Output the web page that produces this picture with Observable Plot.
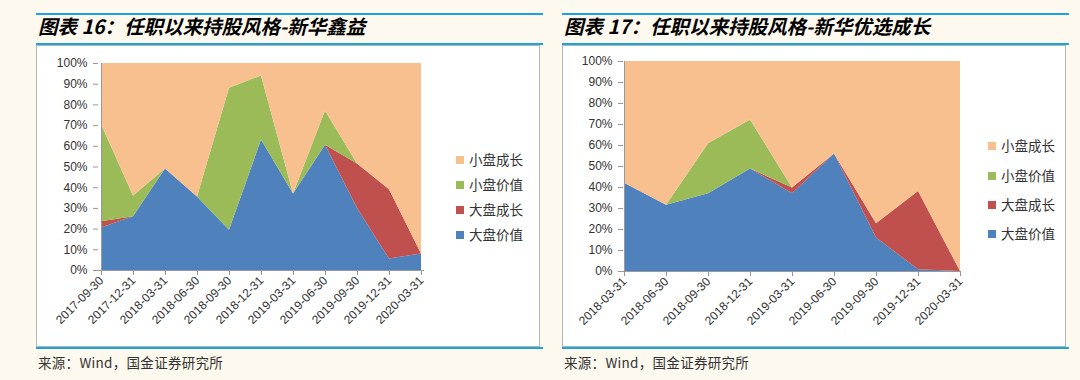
<!DOCTYPE html>
<html><head><meta charset="utf-8">
<script src="https://cdn.jsdelivr.net/npm/d3@7"></script>
<script src="https://cdn.jsdelivr.net/npm/@observablehq/plot@0.6"></script>
<style>
html,body{margin:0;padding:0;}
body{width:1080px;height:380px;background:#FEF9EE;position:relative;overflow:hidden;font-family:"Liberation Sans",Arial,"Noto Sans CJK SC",sans-serif;}
.bline{position:absolute;height:2px;background:#1BA4E0;}
.title{position:absolute;font-family:"Noto Sans CJK SC",sans-serif;font-weight:bold;font-style:italic;font-size:19.5px;line-height:24px;color:#000;white-space:nowrap;}
.box{position:absolute;background:#fff;border:1px solid #b5b5b5;box-sizing:border-box;}
.src{position:absolute;font-family:"Noto Sans CJK SC",sans-serif;font-size:13.5px;letter-spacing:0.3px;color:#333;line-height:16px;white-space:nowrap;}
.leg{position:absolute;font-family:"Noto Sans CJK SC",sans-serif;font-size:13.5px;color:#333;line-height:16px;white-space:nowrap;}
.leg span.sw{display:inline-block;width:8px;height:8px;margin-right:5px;vertical-align:1px;}
svg [aria-label="x-axis tick"], svg [aria-label="y-axis tick"]{stroke:#999;}
</style></head>
<body>
<script>
// ---- data ----
const seriesNames = ["大盘价值","大盘成长","小盘价值","小盘成长"];
const seriesColors = ["#4F81BD","#C0504D","#9BBB59","#F9C08F"];
const yTicks = [0,10,20,30,40,50,60,70,80,90,100];

const title16 = "图表 16：任职以来持股风格-新华鑫益";
const cats16 = ["2017-09-30","2017-12-31","2018-03-31","2018-06-30","2018-09-30","2018-12-31","2019-03-31","2019-06-30","2019-09-30","2019-12-31","2020-03-31"];
const bigValue16    = [20.5, 26, 49, 35.5, 19.5, 63, 37, 60.5, 30,   5.5,  8];
const bigGrowth16   = [3,    0,  0,  0,    0,    0,  0,  0,    21.5, 33.5, 0];
const smallValue16  = [47,   10, 0,  0,    68.5, 31, 0,  16.5, 0,    0,    0];
const smallGrowth16 = [29.5, 64, 51, 64.5, 12,   6,  63, 23,   48.5, 61,   92];

const title17 = "图表 17：任职以来持股风格-新华优选成长";
const cats17 = ["2018-03-31","2018-06-30","2018-09-30","2018-12-31","2019-03-31","2019-06-30","2019-09-30","2019-12-31","2020-03-31"];
const bigValue17    = [42, 31.5, 37,   48.8, 37,   56, 16,   0.8,  0];
const bigGrowth17   = [0,  0,    0,    0,    2.8,  0,  6.7,  37.3, 0];
const smallValue17  = [0,  0,    23.8, 23.3, 0,    0,  0,    0,    0];
const smallGrowth17 = [58, 68.5, 39.2, 27.9, 60.2, 44, 77.3, 61.9, 100];

const sourceText = "来源：Wind，国金证券研究所";

function buildTable(cats, arrays){
  const rows = [];
  cats.forEach((c,i)=>{
    seriesNames.forEach((s,k)=>rows.push({date:c, series:s, value:arrays[k][i]}));
  });
  return rows;
}

function panel(opts){
  const {left, width, title, cats, arrays, m, legendX, legendYs} = opts;
  const add = (html)=>{ const d=document.createElement("div"); d.innerHTML=html; return d.firstElementChild; };
  document.body.appendChild(add(`<div class="bline" style="left:${left}px;top:13px;width:${width+3}px"></div>`));
  const t = add(`<div class="title" style="left:${left+2}px;top:14px"></div>`); t.textContent = title; document.body.appendChild(t);
  document.body.appendChild(add(`<div class="bline" style="left:${left}px;top:43px;width:${width+3}px"></div>`));
  const box = add(`<div class="box" style="left:${left}px;top:45px;width:${width}px;height:302px"></div>`);
  document.body.appendChild(box);
  document.body.appendChild(add(`<div class="bline" style="left:${left}px;top:347px;width:${width+3}px"></div>`));
  const s = add(`<div class="src" style="left:${left+2}px;top:354px"></div>`); s.textContent = sourceText; document.body.appendChild(s);

  const table = buildTable(cats, arrays);
  const chart = Plot.plot({
    width: width-2, height: 300,
    marginLeft: m[0], marginRight: m[1], marginTop: m[2], marginBottom: m[3],
    style: {background:"transparent", fontFamily:'"Liberation Sans",Arial,sans-serif', fontSize:"12px", color:"#333", overflow:"visible"},
    x: {type:"point", domain: cats, padding: 0, label: null, tickRotate: -45, tickSize: 5, tickPadding: 3},
    y: {domain:[0,100], ticks: yTicks, tickFormat: d => d + "%", label: null, tickSize: 5, tickPadding: 6},
    color: {domain: seriesNames, range: seriesColors},
    marks: [
      Plot.areaY(table, {x:"date", y:"value", fill:"series", order: seriesNames, curve:"linear"}),
      Plot.ruleY([0], {stroke:"#999"}),
      Plot.ruleX([cats[0]], {stroke:"#999"})
    ]
  });
  chart.style.position = "absolute";
  chart.style.left = "0px";
  chart.style.top = "0px";
  box.appendChild(chart);

  // legend (top to bottom: reverse stack order)
  const order = [3,2,1,0];
  order.forEach((k,j)=>{
    const l = document.createElement("div");
    l.className = "leg";
    l.style.left = legendX + "px";
    l.style.top = (legendYs[j]-8) + "px";
    const sw = document.createElement("span");
    sw.className = "sw"; sw.style.background = seriesColors[k];
    l.appendChild(sw);
    l.appendChild(document.createTextNode(seriesNames[k]));
    box.appendChild(l);
  });
}

panel({left:36, width:504, title:title16, cats:cats16,
  arrays:[bigValue16,bigGrowth16,smallValue16,smallGrowth16],
  m:[61,115,17,76], legendX:419, legendYs:[113,138,163,188]});
panel({left:562, width:504, title:title17, cats:cats17,
  arrays:[bigValue17,bigGrowth17,smallValue17,smallGrowth17],
  m:[60,104,15,75], legendX:425, legendYs:[99,129,158,187]});
</script>
</body></html>
